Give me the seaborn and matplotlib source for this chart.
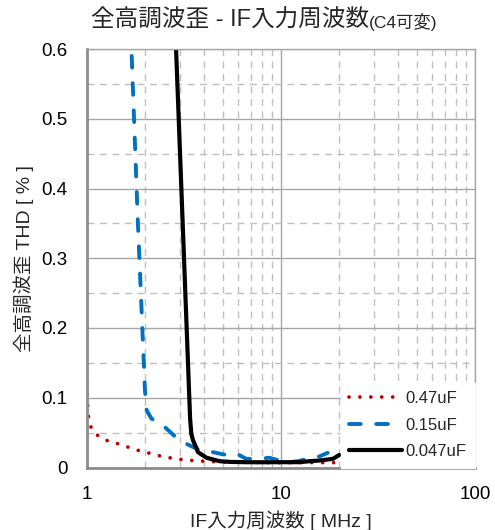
import numpy as np
import pandas as pd
import matplotlib
matplotlib.use("Agg")
import matplotlib.pyplot as plt
import seaborn as sns

# ---- data ----
labels = ["0.47uF", "0.15uF", "0.047uF"]

f_047u = [1.0, 1.005, 1.016, 1.03, 1.086, 1.19, 1.31, 1.45, 1.6, 1.75, 1.93, 2.13,
          2.35, 2.6, 2.87, 3.16, 3.52, 4.0, 5.0, 6.5, 8.0, 10.0, 12.5, 15.0, 19.0]
thd_047u = [0.12, 0.096, 0.075, 0.062, 0.05, 0.042, 0.037, 0.034, 0.030, 0.026, 0.023,
            0.020, 0.017, 0.0145, 0.0125, 0.011, 0.010, 0.009, 0.008, 0.0075, 0.007,
            0.007, 0.007, 0.007, 0.007]

f_015u = [1.70, 1.83, 1.99, 2.03, 2.15, 2.47, 2.83, 3.25, 3.8, 4.46, 5.0, 5.54, 5.98,
          6.62, 7.78, 8.7, 9.8, 11.0, 12.2, 13.5, 15.8, 17.4]
thd_015u = [0.59, 0.35, 0.11, 0.082, 0.07, 0.06, 0.045, 0.034, 0.025, 0.022, 0.019,
            0.017, 0.019, 0.0124, 0.0124, 0.014, 0.010, 0.0076, 0.009, 0.012, 0.016, 0.021]

f_0047u = [2.86, 3.40, 3.45, 3.52, 3.66, 3.73, 4.13, 4.83, 5.5, 6.62, 8.0,
           9.8, 12.4, 14.0, 15.8, 18.5, 20.0]
thd_0047u = [0.62, 0.07, 0.048, 0.039, 0.028, 0.022, 0.014, 0.009, 0.008,
             0.0076, 0.0075, 0.0076, 0.0076, 0.009, 0.010, 0.0124, 0.018]

x_ticks = [1, 10, 100]
x_tick_labels = ["1", "10", "100"]
y_ticks = [0, 0.1, 0.2, 0.3, 0.4, 0.5, 0.6]
y_tick_labels = ["0", "0.1", "0.2", "0.3", "0.4", "0.5", "0.6"]

title_main = "全高調波歪 - IF入力周波数"
title_sub = "(C4可変)"
xlabel = "IF入力周波数 [ MHz ]"
ylabel = "全高調波歪 THD [ % ]"

# ---- style ----
sns.set_theme(style="white")
plt.rcParams["font.family"] = ["Liberation Sans", "Noto Sans CJK JP", "DejaVu Sans"]

fig = plt.figure(figsize=(4.95, 5.30), dpi=100)
ax = fig.add_axes([87 / 495, 1 - 467.5 / 530, 388 / 495, 418.5 / 530])

series = [
    (f_047u, thd_047u, labels[0], "#c00000", 2.7, (0, (0.01, 2.9))),
    (f_015u, thd_015u, labels[1], "#0070c0", 2.8, (0, (3.0, 4.0))),
    (f_0047u, thd_0047u, labels[2], "#000000", 3.0, "-"),
]
for fx, ty, lab, col, lw, ls in series:
    df = pd.DataFrame({"f": fx, "thd": ty})
    sns.lineplot(data=df, x="f", y="thd", ax=ax, sort=False, estimator=None,
                 color=col, lw=lw, linestyle=ls, label=lab,
                 dash_capstyle="round", solid_capstyle="round")

ax.set_xscale("log")
ax.set_xlim(1, 100)
ax.set_ylim(0, 0.6)
ax.set_xticks(x_ticks)
ax.set_xticklabels(x_tick_labels)
ax.set_yticks(y_ticks)
ax.set_yticklabels(y_tick_labels)
ax.set_yticks(np.arange(0.05, 0.6, 0.1), minor=True)
ax.set_xticks([2, 3, 4, 5, 6, 7, 8, 9, 20, 30, 40, 50, 60, 70, 80, 90], minor=True)
ax.tick_params(axis="both", which="both", length=0)
ax.tick_params(axis="y", which="major", labelsize=13.5, pad=14, colors="#000000")
ax.tick_params(axis="x", which="major", labelsize=13.5, pad=13, colors="#000000")
ax.tick_params(axis="x", which="minor", labelbottom=False)

ax.grid(True, which="major", color="#a6a6a6", lw=1.0, ls="-")
ax.grid(True, which="minor", color="#bfbfbf", lw=1.0, ls=(0, (5, 4)))
ax.set_axisbelow(True)

for side in ["top", "right"]:
    ax.spines[side].set_color("#a6a6a6")
    ax.spines[side].set_linewidth(1.0)
for side in ["left", "bottom"]:
    ax.spines[side].set_color("#8c8c8c")
    ax.spines[side].set_linewidth(2.0)

ax.set_xlabel(xlabel, fontsize=14, va="center")
ax.xaxis.set_label_coords(0.5, (467.5 - 521) / 418.5)
ax.set_ylabel(ylabel, fontsize=14, va="center")
ax.yaxis.set_label_coords((24 - 87) / 388, 0.5)

leg = ax.legend(loc="lower right", fontsize=12, frameon=True, fancybox=False,
                handlelength=3.2, handletextpad=0.2, labelspacing=0.7,
                borderaxespad=0.0, borderpad=0.5)
leg.get_frame().set_facecolor("white")
leg.get_frame().set_edgecolor("white")
leg.get_frame().set_alpha(1.0)

t1 = fig.text(91 / 495, 1 - 21 / 530, title_main, fontsize=17, va="center", ha="left")
fig.canvas.draw()
bb = t1.get_window_extent()
fig.text(bb.x1 / fig.bbox.width, 1 - 22 / 530, title_sub, fontsize=12.5, va="center", ha="left")

fig.savefig("out.png", dpi=100)
